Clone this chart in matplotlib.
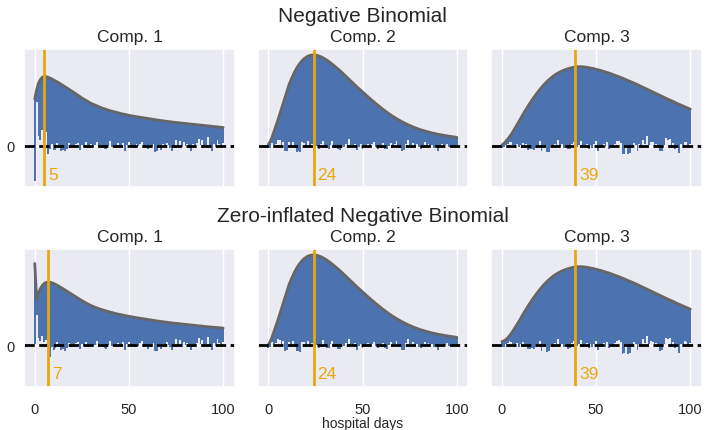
import numpy as np
import matplotlib
matplotlib.use("Agg")
import matplotlib.pyplot as plt
import seaborn as sns

sns.set_theme(style="darkgrid")
plt.rcParams['font.family'] = ['Liberation Sans', 'DejaVu Sans']

days = np.arange(0, 101)

row_titles = ["Negative Binomial", "Zero-inflated Negative Binomial"]
comp_titles = ["Comp. 1", "Comp. 2", "Comp. 3"]
modes_nb = [5, 24, 39]
modes_zinb = [7, 24, 39]

# expected (sqrt scale) curves
curve_nb1 = [4.65, 5.6, 6.25, 6.6, 6.82, 6.9, 6.88, 6.83, 6.75, 6.66, 6.55,
             6.45, 6.35, 6.24, 6.12, 6.0, 5.88, 5.76, 5.64, 5.52, 5.4,
             5.27, 5.14, 5.01, 4.88, 4.75, 4.64, 4.53, 4.42, 4.31, 4.2,
             4.12, 4.04, 3.96, 3.88, 3.8, 3.73, 3.67, 3.6, 3.54, 3.48,
             3.43, 3.38, 3.33, 3.28, 3.23, 3.18, 3.14, 3.1, 3.06, 3.02,
             2.98, 2.95, 2.91, 2.88, 2.85, 2.82, 2.79, 2.76, 2.73, 2.7,
             2.67, 2.64, 2.61, 2.58, 2.55, 2.52, 2.5, 2.47, 2.44, 2.42,
             2.39, 2.37, 2.35, 2.32, 2.3, 2.28, 2.26, 2.24, 2.22, 2.2,
             2.18, 2.16, 2.14, 2.12, 2.1, 2.08, 2.06, 2.04, 2.02, 2.0,
             1.98, 1.96, 1.94, 1.92, 1.9, 1.88, 1.86, 1.84, 1.82, 1.8]
curve_zinb1 = [8.2, 4.6, 5.25, 5.7, 6.0, 6.2, 6.3, 6.35, 6.33, 6.28, 6.2,
               6.11, 6.01, 5.9, 5.79, 5.68, 5.56, 5.44, 5.32, 5.2, 5.08,
               4.96, 4.84, 4.72, 4.6, 4.49, 4.38, 4.27, 4.17, 4.07, 3.98,
               3.9, 3.82, 3.75, 3.68, 3.62, 3.56, 3.5, 3.44, 3.39, 3.34,
               3.29, 3.24, 3.19, 3.15, 3.11, 3.07, 3.03, 2.99, 2.95, 2.92,
               2.88, 2.85, 2.81, 2.78, 2.75, 2.72, 2.69, 2.66, 2.63, 2.6,
               2.57, 2.54, 2.51, 2.48, 2.45, 2.42, 2.4, 2.37, 2.35, 2.32,
               2.3, 2.27, 2.25, 2.23, 2.21, 2.19, 2.17, 2.15, 2.13, 2.11,
               2.09, 2.07, 2.05, 2.03, 2.01, 1.99, 1.97, 1.95, 1.93, 1.91,
               1.89, 1.87, 1.85, 1.83, 1.82, 1.8, 1.79, 1.77, 1.76, 1.74]
curve_c2 = [0.1, 0.4, 0.85, 1.4, 1.95, 2.5, 3.1, 3.7, 4.3, 4.9, 5.5,
            6.1, 6.55, 6.98, 7.38, 7.72, 8.02, 8.28, 8.5, 8.68, 8.82,
            8.93, 9.0, 9.04, 9.05, 9.04, 9.0, 8.94, 8.86, 8.77, 8.66,
            8.54, 8.41, 8.27, 8.12, 7.97, 7.81, 7.65, 7.48, 7.31, 7.13,
            6.95, 6.77, 6.59, 6.41, 6.23, 6.05, 5.87, 5.7, 5.53, 5.36,
            5.19, 5.02, 4.85, 4.68, 4.52, 4.36, 4.2, 4.05, 3.9, 3.75,
            3.6, 3.46, 3.32, 3.18, 3.05, 2.93, 2.81, 2.69, 2.58, 2.47,
            2.37, 2.27, 2.18, 2.09, 2.0, 1.92, 1.84, 1.77, 1.7, 1.63,
            1.57, 1.51, 1.45, 1.4, 1.35, 1.3, 1.25, 1.21, 1.17, 1.13,
            1.09, 1.06, 1.02, 0.99, 0.96, 0.93, 0.9, 0.87, 0.84, 0.82]
curve_nb3 = [0.05, 0.2, 0.4, 0.62, 0.86, 1.13, 1.43, 1.75, 2.07, 2.39, 2.72,
             3.05, 3.37, 3.68, 3.98, 4.27, 4.55, 4.82, 5.08, 5.33, 5.57,
             5.8, 6.02, 6.22, 6.41, 6.59, 6.75, 6.9, 7.04, 7.16, 7.27,
             7.37, 7.46, 7.54, 7.61, 7.67, 7.73, 7.78, 7.82, 7.85, 7.87,
             7.88, 7.88, 7.87, 7.85, 7.82, 7.79, 7.75, 7.71, 7.67, 7.62,
             7.57, 7.52, 7.47, 7.41, 7.35, 7.29, 7.23, 7.16, 7.09, 7.02,
             6.95, 6.88, 6.81, 6.73, 6.65, 6.57, 6.49, 6.41, 6.33, 6.25,
             6.17, 6.08, 5.99, 5.9, 5.81, 5.72, 5.63, 5.54, 5.45, 5.36,
             5.27, 5.18, 5.09, 5.0, 4.91, 4.82, 4.73, 4.64, 4.56, 4.48,
             4.39, 4.3, 4.21, 4.12, 4.04, 3.96, 3.88, 3.8, 3.72, 3.64]
curve_zinb3 = [0.4, 0.45, 0.58, 0.75, 0.97, 1.22, 1.5, 1.8, 2.1, 2.4] + curve_nb3[10:]

# bar bottoms (hanging rootogram residuals)
bottom_nb1 = [-3.5, 4.4, 1.0, 0.6, 1.6, 0.3, 1.4, -0.85, -0.3, 0.2, -0.45,
              -0.4, 0.3, -0.2, -0.5, -0.4, -0.55, -0.3, 0.25, -0.2, 0.1,
              -0.15, 0.2, 0.3, -0.4, 0.1, -0.1, 0.35, 0.0, -0.2, 0.15,
              -0.1, 0.05, 0.4, -0.15, 0.1, -0.1, -0.3, -0.35, 0.0, 0.45,
              -0.1, 0.1, -0.2, 0.25, 0.0, -0.15, 0.3, -0.5, 0.1, 0.35,
              -0.1, 0.0, -0.2, 0.15, -0.05, 0.2, 0.4, -0.1, 0.05, -0.35,
              0.1, -0.15, 0.2, -0.6, -0.55, 0.1, -0.4, 0.15, -0.1, 0.3,
              0.05, -0.2, -0.5, 0.1, 0.6, -0.1, 0.5, -0.15, 0.35, 0.0,
              0.2, -0.2, -0.5, 0.15, -0.1, 0.25, 0.7, 0.1, 0.55, -0.2,
              0.1, 0.85, -0.1, -0.5, 0.2, -0.1, 0.6, 0.2, -0.15, 0.3]
bottom_zinb1 = [0.1, 3.0, 0.7, 0.4, 0.9, 0.3, 0.5, 0.0, -1.2, -0.2, -0.5,
                -0.3] + bottom_nb1[12:]
bottom_c2 = [-0.25, -0.2, 0.3, 0.1, 0.2, 0.6, 0.55, 0.1, 0.4, -0.55, -0.5,
             0.35, -0.1, 0.4, -0.2, -0.6, -0.55, -0.65, 0.35, 0.3, -0.15,
             0.45, -0.1, 0.2, 0.1, -0.2, 0.0, -0.3, 0.15, 0.5, -0.1,
             -0.25, -0.3, 0.1, 0.45, 0.0, -0.2, -0.35, -0.4, 0.1, -0.1,
             0.2, -0.15, 0.65, 0.1, -0.1, 0.2, -0.45, -0.1, 0.15, -0.3,
             0.05, -0.1, 0.2, -0.05, 0.15, 0.35, -0.1, -0.3, 0.1, -0.2,
             0.25, -0.3, -0.35, 0.0, 0.3, -0.1, 0.15, 0.45, 0.1, -0.2,
             -0.5, -0.45, 0.2, 0.6, 0.1, -0.2, 0.3, -0.1, 0.15, -0.15,
             -0.3, 0.1, 0.35, -0.05, 0.2, -0.1, 0.1, -0.2, -0.1, -0.5,
             0.1, 0.15, -0.1, 0.05, 0.2, -0.1, 0.1, 0.0, -0.1, 0.05]
bottom_c3 = [-0.2, -0.15, 0.1, 0.2, 0.4, 0.35, 0.1, -0.2, 0.2, -0.15, 0.1,
             0.3, -0.1, 0.15, -0.4, -0.35, -0.3, -0.4, -0.2, 0.1, 0.45,
             -0.55, 0.1, -0.2, -0.65, -0.6, 0.1, -0.15, 0.2, 0.1, 0.6,
             -0.1, 0.15, -0.2, 0.1, -0.35, -0.3, 0.2, 0.4, 0.0, -0.1,
             0.1, 0.5, -0.15, 0.1, 0.2, -0.3, 0.1, -0.2, 0.15, 0.45,
             -0.5, 0.1, -0.1, 0.2, -0.15, 0.35, -0.3, 0.05, -0.1, 0.2,
             0.45, 0.5, 0.3, -0.85, -0.8, 0.1, -0.85, -0.75, 0.05, 0.3,
             0.1, -0.5, 0.15, -0.1, 0.6, 0.2, 0.95, 0.1, 0.4, 0.35,
             -0.1, 0.2, -0.15, -0.55, -0.5, 0.1, 0.75, 0.6, 0.7, -0.2,
             0.3, -0.3, 0.1, -0.75, 0.15, -0.2, 0.4, 0.35, -0.1, 0.2]

curves = [[curve_nb1, curve_c2, curve_nb3], [curve_zinb1, curve_c2, curve_zinb3]]
bottoms = [[bottom_nb1, bottom_c2, bottom_c3], [bottom_zinb1, bottom_c2, bottom_c3]]
modes = [modes_nb, modes_zinb]

bar_color = '#4C72B0'
mode_color = '#E8A80C'

fig, axes = plt.subplots(2, 3, figsize=(7.07, 4.31), dpi=100, sharex=True, sharey=True)
fig.subplots_adjust(left=0.0344, right=0.9925, top=0.884, bottom=0.0998,
                    wspace=0.111, hspace=0.449)

for r in range(2):
    for c in range(3):
        ax = axes[r, c]
        top = np.array(curves[r][c])
        bot = np.array(bottoms[r][c])
        ax.bar(days, top - bot, bottom=bot, width=1.0, color=bar_color, linewidth=0)
        ax.plot(days, top, color='#666666', lw=2)
        ax.axhline(0, color='black', ls='--', lw=2)
        m = modes[r][c]
        ax.axvline(m, color=mode_color, lw=2)
        ax.text(m + 2, -2.85, str(m), color=mode_color, fontsize=12.5,
                ha='left', va='center')
        ax.set_title(comp_titles[c], fontsize=12.5)
        ax.set_yticks([0])
        ax.set_xticks([0, 50, 100])
        ax.tick_params(labelsize=10.5, colors='#262626')
        ax.tick_params(axis='x', pad=4.5)
        ax.tick_params(axis='y', pad=1)

axes[0, 0].set_ylim(-4.15, 9.65)
axes[0, 0].set_xlim(-5.55, 106.05)

axes[1, 1].set_xlabel('hospital days', fontsize=10, color='#262626', labelpad=0.5)

fig.text(0.513, 0.962, row_titles[0], ha='center', va='center', fontsize=15, color='#262626')
fig.text(0.513, 0.498, row_titles[1], ha='center', va='center', fontsize=15, color='#262626')

fig.savefig('out.png', dpi=100)
